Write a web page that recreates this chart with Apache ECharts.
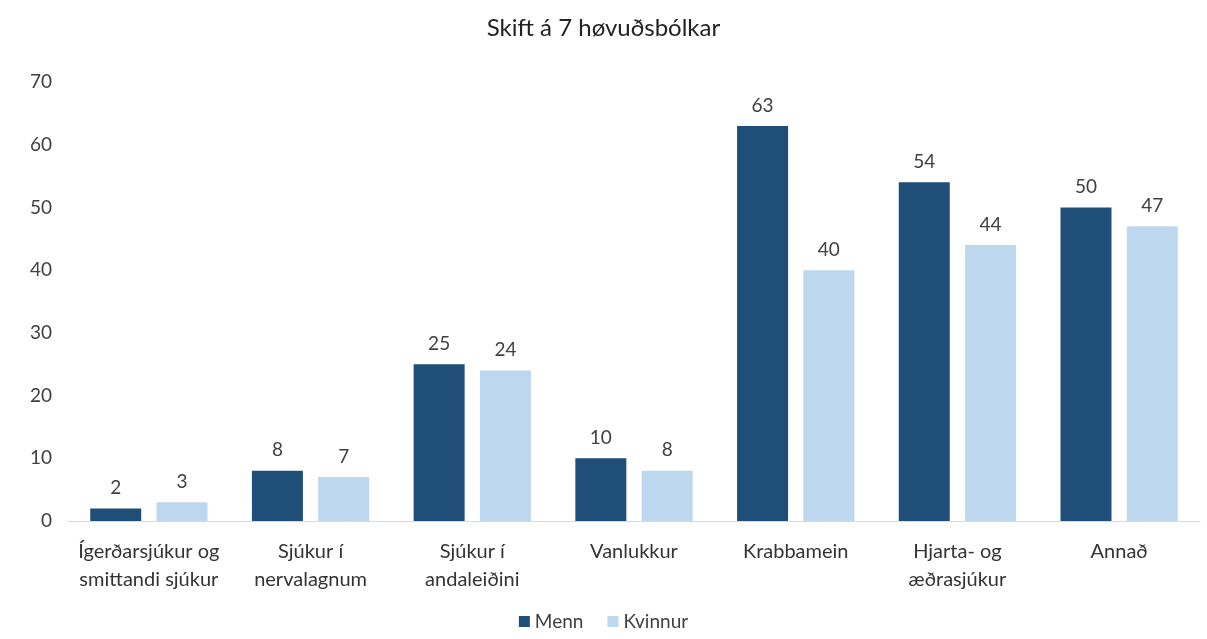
<!DOCTYPE html>
<html>
<head>
<meta charset="utf-8">
<script src="https://cdn.jsdelivr.net/npm/echarts@6/dist/echarts.min.js"></script>
<style>
  html, body { margin: 0; padding: 0; background: #fff; }
  #chart { width: 1207px; height: 639px; }
</style>
</head>
<body>
<div id="chart"></div>
<script>
const categories = [
  'Ígerðarsjúkur og\nsmittandi sjúkur',
  'Sjúkur í\nnervalagnum',
  'Sjúkur í\nandaleiðini',
  'Vanlukkur',
  'Krabbamein',
  'Hjarta- og\næðrasjúkur',
  'Annað'
];
const menn = [2, 8, 25, 10, 63, 54, 50];
const kvinnur = [3, 7, 24, 8, 40, 44, 47];
const yTicks = [0, 10, 20, 30, 40, 50, 60, 70];

const chart = echarts.init(document.getElementById('chart'));
const fontFamily = 'Lato, "Open Sans", sans-serif';

const labelStyle = {
  show: true,
  position: 'top',
  distance: 11,
  color: '#404040',
  fontSize: 19,
  fontFamily: fontFamily
};

chart.setOption({
  animation: false,
  title: {
    text: 'Skift á 7 høvuðsbólkar',
    left: 'center',
    top: 11,
    textStyle: { color: '#222', fontSize: 24, fontWeight: 'normal', fontFamily: fontFamily }
  },
  legend: {
    bottom: 3,
    left: 'center',
    itemWidth: 11,
    itemHeight: 11,
    itemGap: 24,
    icon: 'rect',
    textStyle: { color: '#404040', fontSize: 19, fontFamily: fontFamily },
    data: ['Menn', 'Kvinnur']
  },
  grid: { left: 68, right: 7, top: 82, bottom: 118 },
  xAxis: {
    type: 'category',
    data: categories,
    axisLine: { lineStyle: { color: '#d9d9d9', width: 1 } },
    axisTick: { show: false },
    axisLabel: {
      interval: 0,
      margin: 17,
      color: '#333',
      fontSize: 20,
      lineHeight: 28,
      fontFamily: fontFamily
    }
  },
  yAxis: {
    type: 'value',
    min: yTicks[0],
    max: yTicks[yTicks.length - 1],
    interval: 10,
    splitLine: { show: false },
    axisLine: { show: false },
    axisTick: { show: false },
    axisLabel: { color: '#404040', fontSize: 19, margin: 16, fontFamily: fontFamily }
  },
  series: [
    {
      name: 'Menn',
      type: 'bar',
      data: menn,
      barWidth: 51,
      barGap: '30%',
      itemStyle: { color: '#1f4e79' },
      label: labelStyle
    },
    {
      name: 'Kvinnur',
      type: 'bar',
      data: kvinnur,
      barWidth: 51,
      itemStyle: { color: '#bdd7ee' },
      label: labelStyle
    }
  ]
});
</script>
</body>
</html>
